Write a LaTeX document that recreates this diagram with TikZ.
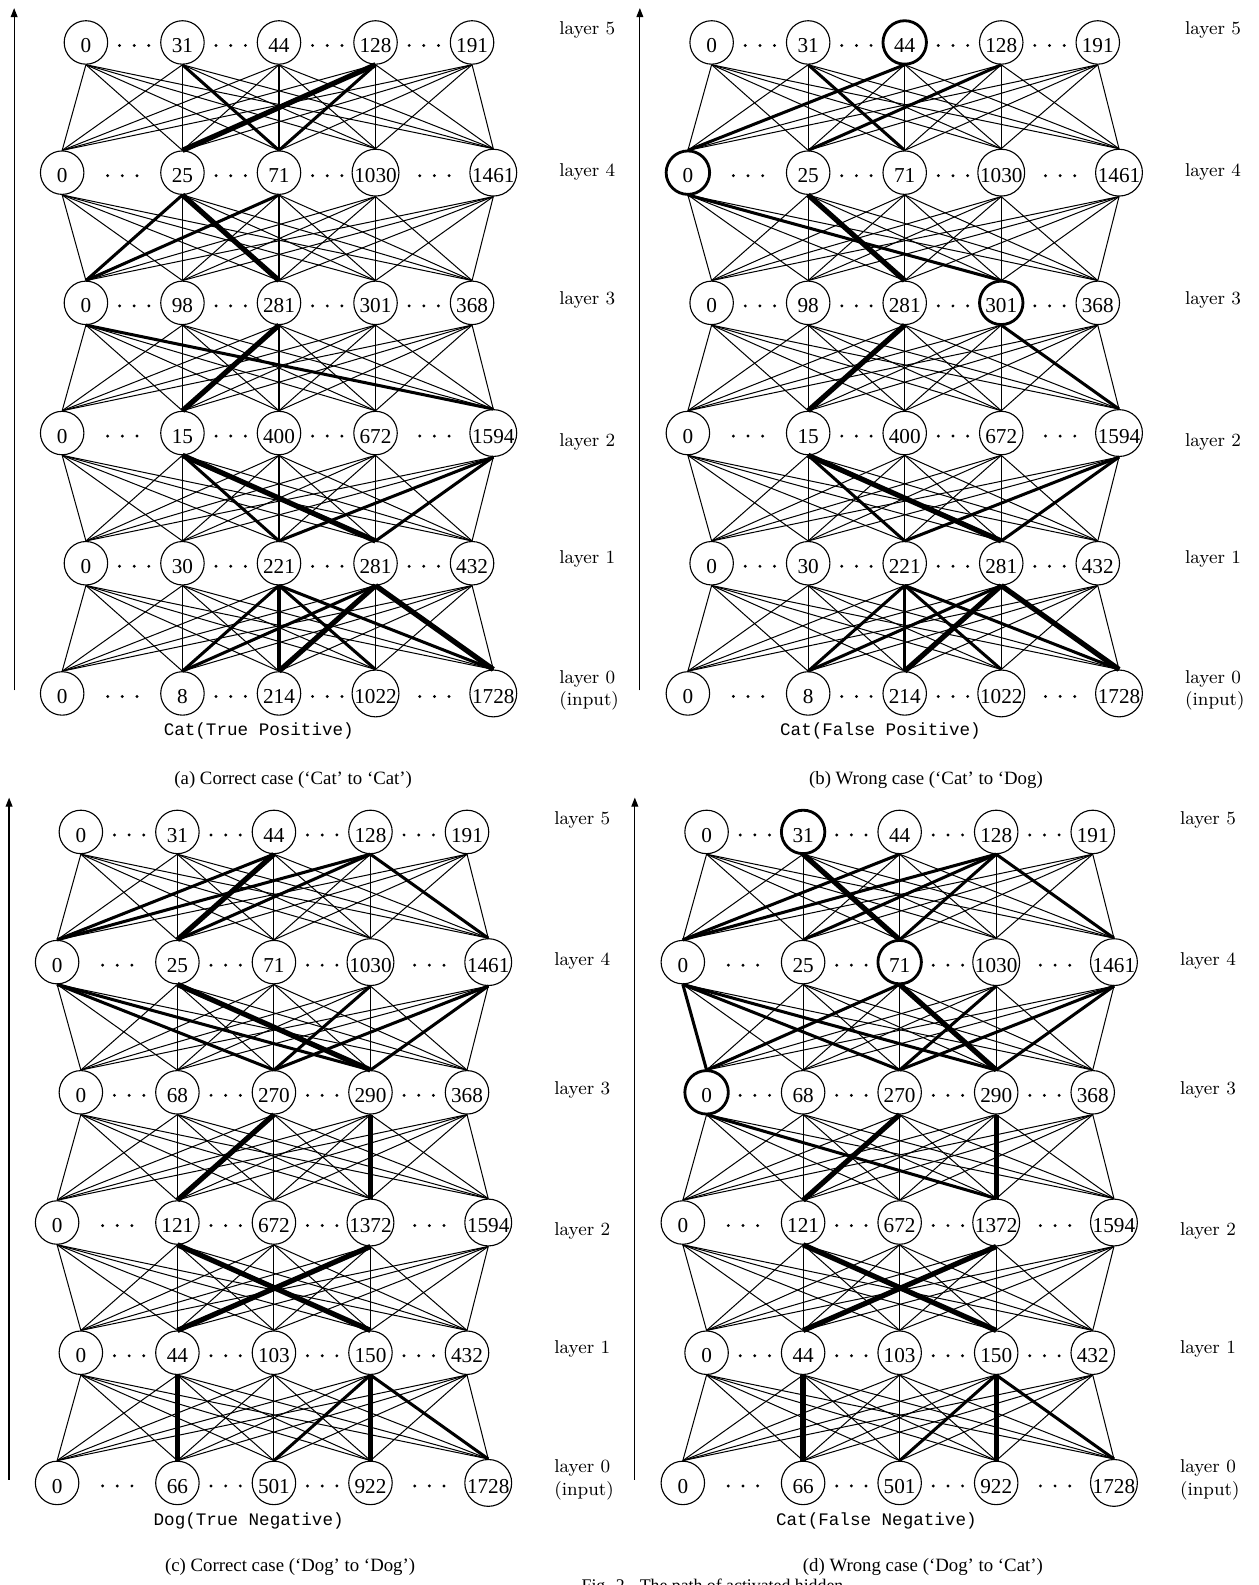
\documentclass[tikz,border=0pt]{standalone}
\usepackage{fontspec}
\newfontfamily\tms{Liberation Serif}
\newfontfamily\crr{Liberation Mono}
\usetikzlibrary{arrows.meta,calc}
\tikzset{
  neuron/.style={circle,draw,line width=0.55pt,minimum size=21.5pt,inner sep=0pt,
     font=\tms\fontsize{10.5}{10.5}\selectfont,text height=10pt,text depth=0pt},
  conn/.style={line width=0.5pt},
  thk/.style={line width=1.5pt},
  vthk/.style={line width=2.6pt},
  hot/.style={line width=1.4pt},
  axisarrow/.style={line width=0.6pt,-{Triangle[length=4.5pt,width=3.4pt]}},
  layerlab/.style={anchor=west,inner sep=0pt,font=\fontsize{9.2}{11}\selectfont,align=left},
  outlab/.style={inner sep=0pt,font=\crr\fontsize{8.7}{10}\selectfont},
  subcap/.style={inner sep=0pt,font=\tms\fontsize{9.3}{11}\selectfont}
}
\newcommand{\nnpanel}[9]{%
\begin{scope}[shift={(#2,#3)}]
  \foreach \k/\labs in {5/{#4},4/{#5},3/{#6},2/{#7},1/{#8},0/{#9}}{%
    \pgfmathsetmacro{\yy}{42+(5-\k)*128.8}%
    \pgfmathtruncatemacro{\ev}{mod(\k,2)==0}%
    \foreach \lab [count=\i] in \labs {%
      \pgfmathsetmacro{\xx}{85+95.5*(\i-1)-\ev*23.5*(\i==1)+\ev*21*(\i==5)}%
      \node[neuron] (#1\k\i) at (\xx,\yy) {\lab};
    }%
    \foreach \i in {1,...,4}{%
      \pgfmathtruncatemacro{\ii}{\i+1}%
      \foreach \d in {-14.5,0,14.5}{%
        \fill ($(#1\k\i.center)!0.5!(#1\k\ii.center)$) ++(\d,3) circle[radius=0.8pt];
      }%
    }%
  }%
  \foreach \k in {5,4,3,2,1}{%
    \pgfmathtruncatemacro{\kk}{\k-1}%
    \foreach \i in {1,...,5}{%
      \foreach \j in {1,...,5}{%
        \draw[conn] (#1\k\i.south) -- (#1\kk\j.north);
      }%
    }%
  }%
  \coordinate (#1bot) at (14,683);
  \coordinate (#1top) at (14,8);
  \draw[axisarrow] (#1bot) -- (#1top);
  \node[layerlab] (#1lab5) at (553,30) {layer 5};
  \node[layerlab] (#1lab4) at (553,170) {layer 4};
  \node[layerlab] (#1lab3) at (553,297) {layer 3};
  \node[layerlab] (#1lab2) at (553,437) {layer 2};
  \node[layerlab] (#1lab1) at (553,553) {layer 1};
  \node[layerlab] (#1lab0) at (553,683) {layer 0\\(input)};
\end{scope}}
\begin{document}
\begin{tikzpicture}[x=0.5pt,y=-0.5pt]
\useasboundingbox (0,0) rectangle (1245,1568);
% panels
\nnpanel{a}{0}{0}{0,31,44,128,191}{0,25,71,1030,1461}{0,98,281,301,368}{0,15,400,672,1594}{0,30,221,281,432}{0,8,214,1022,1728}
\nnpanel{b}{619}{0}{0,31,44,128,191}{0,25,71,1030,1461}{0,98,281,301,368}{0,15,400,672,1594}{0,30,221,281,432}{0,8,214,1022,1728}
\nnpanel{c}{-5}{781}{0,31,44,128,191}{0,25,71,1030,1461}{0,68,270,290,368}{0,121,672,1372,1594}{0,44,103,150,432}{0,66,501,922,1728}
\nnpanel{d}{614}{781}{0,31,44,128,191}{0,25,71,1030,1461}{0,68,270,290,368}{0,121,672,1372,1594}{0,44,103,150,432}{0,66,501,922,1728}
% panel a highlights
\draw[thk] (a52.south) -- (a43.north);
\draw[vthk] (a54.south) -- (a42.north);
\draw[thk] (a54.south) -- (a43.north);
\draw[thk] (a42.south) -- (a31.north);
\draw[vthk] (a42.south) -- (a33.north);
\draw[thk] (a43.south) -- (a31.north);
\draw[thk] (a31.south) -- (a25.north);
\draw[vthk] (a33.south) -- (a22.north);
\draw[thk] (a22.south) -- (a13.north);
\draw[vthk] (a22.south) -- (a14.north);
\draw[thk] (a25.south) -- (a13.north);
\draw[thk] (a25.south) -- (a14.north);
\draw[thk] (a13.south) -- (a02.north);
\draw[thk] (a13.south) -- (a03.north);
\draw[thk] (a13.south) -- (a04.north);
\draw[thk] (a13.south) -- (a05.north);
\draw[thk] (a14.south) -- (a02.north);
\draw[vthk] (a14.south) -- (a03.north);
\draw[vthk] (a14.south) -- (a05.north);
% panel b highlights
\draw[thk] (b53.south) -- (b41.north);
\draw[thk] (b54.south) -- (b42.north);
\draw[thk] (b52.south) -- (b43.north);
\draw[thk] (b41.south) -- (b34.north);
\draw[vthk] (b42.south) -- (b33.north);
\draw[vthk] (b33.south) -- (b22.north);
\draw[thk] (b34.south) -- (b25.north);
\draw[thk] (b22.south) -- (b13.north);
\draw[vthk] (b22.south) -- (b14.north);
\draw[thk] (b25.south) -- (b13.north);
\draw[thk] (b25.south) -- (b14.north);
\draw[thk] (b13.south) -- (b02.north);
\draw[thk] (b13.south) -- (b03.north);
\draw[thk] (b13.south) -- (b04.north);
\draw[thk] (b13.south) -- (b05.north);
\draw[thk] (b14.south) -- (b02.north);
\draw[vthk] (b14.south) -- (b03.north);
\draw[vthk] (b14.south) -- (b05.north);
\draw[hot] (b53.center) circle[radius=10.75pt];
\draw[hot] (b41.center) circle[radius=10.75pt];
\draw[hot] (b34.center) circle[radius=10.75pt];
% panel c highlights
\draw[thk] (c53.south) -- (c41.north);
\draw[vthk] (c53.south) -- (c42.north);
\draw[thk] (c54.south) -- (c41.north);
\draw[thk] (c54.south) -- (c42.north);
\draw[thk] (c54.south) -- (c45.north);
\draw[thk] (c41.south) -- (c33.north);
\draw[thk] (c41.south) -- (c34.north);
\draw[vthk] (c42.south) -- (c34.north);
\draw[thk] (c44.south) -- (c33.north);
\draw[thk] (c45.south) -- (c33.north);
\draw[thk] (c45.south) -- (c34.north);
\draw[vthk] (c33.south) -- (c22.north);
\draw[vthk] (c34.south) -- (c24.north);
\draw[vthk] (c22.south) -- (c14.north);
\draw[vthk] (c24.south) -- (c12.north);
\draw[vthk] (c12.south) -- (c02.north);
\draw[thk] (c14.south) -- (c03.north);
\draw[vthk] (c14.south) -- (c04.north);
\draw[thk] (c14.south) -- (c05.north);
% panel d highlights
\draw[vthk] (d52.south) -- (d43.north);
\draw[thk] (d53.south) -- (d41.north);
\draw[thk] (d54.south) -- (d41.north);
\draw[thk] (d54.south) -- (d42.north);
\draw[thk] (d54.south) -- (d43.north);
\draw[thk] (d54.south) -- (d45.north);
\draw[thk] (d41.south) -- (d31.north);
\draw[thk] (d41.south) -- (d33.north);
\draw[thk] (d41.south) -- (d34.north);
\draw[thk] (d43.south) -- (d31.north);
\draw[vthk] (d43.south) -- (d34.north);
\draw[thk] (d44.south) -- (d33.north);
\draw[thk] (d45.south) -- (d33.north);
\draw[thk] (d45.south) -- (d34.north);
\draw[thk] (d31.south) -- (d24.north);
\draw[vthk] (d33.south) -- (d22.north);
\draw[vthk] (d34.south) -- (d24.north);
\draw[vthk] (d22.south) -- (d14.north);
\draw[vthk] (d24.south) -- (d12.north);
\draw[vthk] (d12.south) -- (d02.north);
\draw[thk] (d14.south) -- (d03.north);
\draw[vthk] (d14.south) -- (d04.north);
\draw[thk] (d14.south) -- (d05.north);
\draw[hot] (d52.center) circle[radius=10.75pt];
\draw[hot] (d43.center) circle[radius=10.75pt];
\draw[hot] (d31.center) circle[radius=10.75pt];
% captions
\node[outlab] (acap1) at (256,723) {Cat(True Positive)};
\node[subcap] (acap2) at (290,772) {(a) Correct case (‘Cat’ to ‘Cat’)};
\node[outlab] (bcap1) at (871,723) {Cat(False Positive)};
\node[subcap] (bcap2) at (916,772) {(b) Wrong case (‘Cat’ to ‘Dog)};
\node[outlab] (ccap1) at (246,1505) {Dog(True Negative)};
\node[subcap] (ccap2) at (287,1550) {(c) Correct case (‘Dog’ to ‘Dog’)};
\node[outlab] (dcap1) at (867,1505) {Cat(False Negative)};
\node[subcap] (dcap2) at (913,1550) {(d) Wrong case (‘Dog’ to ‘Cat’)};
\node[anchor=base west,inner sep=0pt,font=\tms\fontsize{8.8}{11}\selectfont] (figcap) at (575,1574) {Fig. 2.\hspace{0.6em}The path of activated hidden};
\end{tikzpicture}
\end{document}
